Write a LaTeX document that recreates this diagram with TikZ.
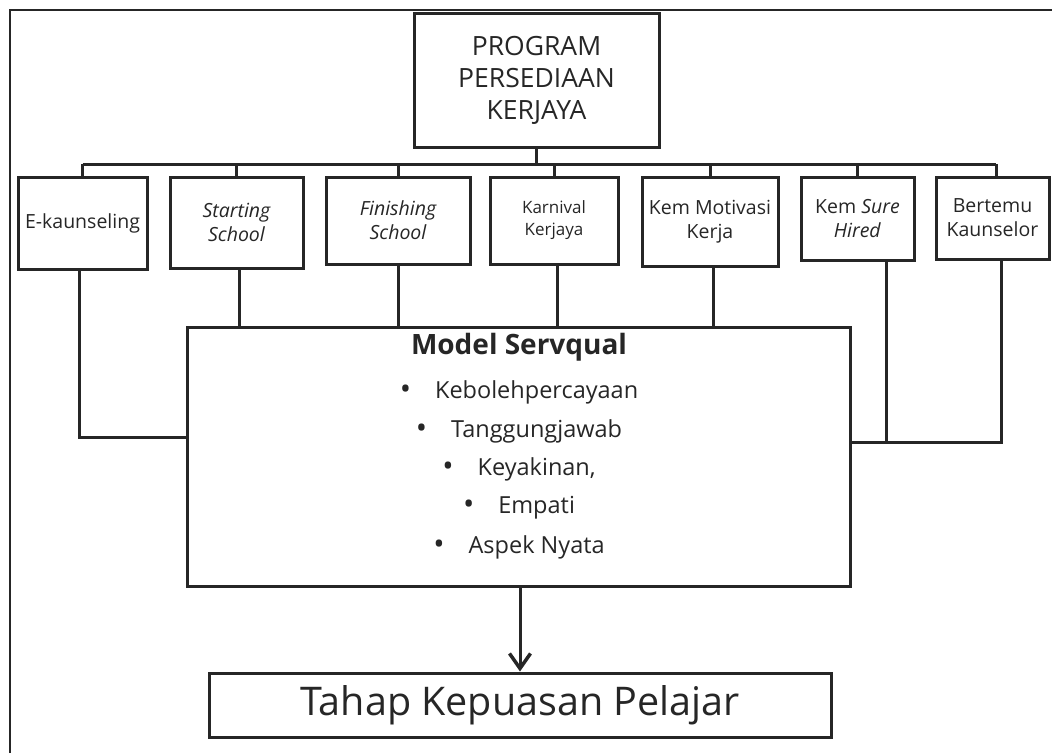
\documentclass[tikz,border=0pt]{standalone}
\usepackage{fontspec}
\setmainfont{Open Sans}
\usetikzlibrary{arrows.meta}
\definecolor{ink}{HTML}{262626}
\newcommand{\bul}{{\fontsize{30}{24}\selectfont\raisebox{-1pt}{•}}\hspace{24pt}}
\begin{document}
\begin{tikzpicture}[x=1pt,y=-1pt,
  box/.style={draw=ink, line width=3pt, inner sep=2pt, align=center, text=ink},
  conn/.style={draw=ink, line width=3pt},
  rowtext/.style={font=\fontsize{19.5}{24}\selectfont},
  txt/.style={inner sep=0pt, text=ink},
  btxt/.style={txt, font=\fontsize{23.5}{26}\selectfont}]
\useasboundingbox (0,0) rectangle (1052,753);
% outer frame
\draw[ink, line width=2.2pt] (10,753) -- (10,10) -- (1052,10);

% top node
\node[box, minimum width=245pt, minimum height=134pt, font=\fontsize{26.5}{32}\selectfont] (top) at (536.5,80) {PROGRAM\\PERSEDIAAN\\KERJAYA};

% row of boxes
\node[box, rowtext, minimum width=129pt, minimum height=92pt] (ek) at (82.5,223) {E-kaunseling};
\node[box, rowtext, minimum width=133pt, minimum height=91pt] (ss) at (236.5,222.5) {\itshape Starting\\\itshape School};
\node[box, rowtext, minimum width=144pt, minimum height=87pt] (fs) at (398,220.5) {\itshape Finishing\\\itshape School};
\node[box, font=\fontsize{17}{22}\selectfont, minimum width=128pt, minimum height=87pt] (kk) at (554,220.5) {Karnival\\Kerjaya};
\node[box, rowtext, minimum width=136pt, minimum height=89pt, inner sep=0pt] (km) at (710,221.5) {Kem Motivasi\\Kerja};
\node[box, rowtext, minimum width=113pt, minimum height=83pt] (sh) at (857.5,218.5) {Kem \textit{Sure}\\\textit{Hired}};
\node[box, rowtext, minimum width=113pt, minimum height=82pt, inner sep=0pt] (bk) at (992.5,218) {Bertemu\\Kaunselor};

% servqual box
\node[box, minimum width=663pt, minimum height=259pt] (sq) at (518.5,456.5) {};
\node[txt, font=\bfseries\fontsize{28}{30}\selectfont] (sqt) at (519,347) {Model Servqual};
\node[btxt] (b1) at (519,392) {\bul Kebolehpercayaan};
\node[btxt] (b2) at (519,431) {\bul Tanggungjawab};
\node[btxt] (b3) at (519,469) {\bul Keyakinan,};
\node[btxt] (b4) at (519,508) {\bul Empati};
\node[btxt] (b5) at (519,547) {\bul Aspek Nyata};

% bottom box
\node[box, minimum width=622pt, minimum height=64pt, font=\fontsize{39.5}{44}\selectfont] (bot) at (520,705) {Tahap Kepuasan Pelajar};

% bus
\coordinate (busL) at (82.5,164);
\coordinate (busR) at (996,164);
\draw[conn] (top.south) -- (top.south |- busL);
\draw[conn] (busL) -- (busR);
\foreach \n in {ek,ss,fs,kk,km,sh}{
  \draw[conn] (\n.north) -- (\n.north |- busL);
}
\draw[conn] (busR) -- (busR |- bk.north);

% lower connectors
\draw[conn] ([xshift=-3.5pt]ek.south) |- ([yshift=19.5pt]sq.west);
\draw[conn] ([xshift=2.5pt]ss.south) -- ([xshift=2.5pt]ss.south |- sq.north);
\draw[conn] (fs.south) -- (fs.south |- sq.north);
\draw[conn] ([xshift=3pt]kk.south) -- ([xshift=3pt]kk.south |- sq.north);
\draw[conn] ([xshift=3pt]km.south) -- ([xshift=3pt]km.south |- sq.north);
\draw[conn] ([xshift=28.5pt]sh.south) |- ([yshift=14.5pt]sq.east);
\draw[conn] ([xshift=8.5pt]bk.south) |- ([yshift=14.5pt]sq.east);

% arrow
\draw[conn, -{Straight Barb[length=15pt, width=21pt, line width=3.5pt]}] ([xshift=1.5pt]sq.south) -- ([xshift=1.5pt]sq.south |- bot.north);
\end{tikzpicture}
\end{document}
